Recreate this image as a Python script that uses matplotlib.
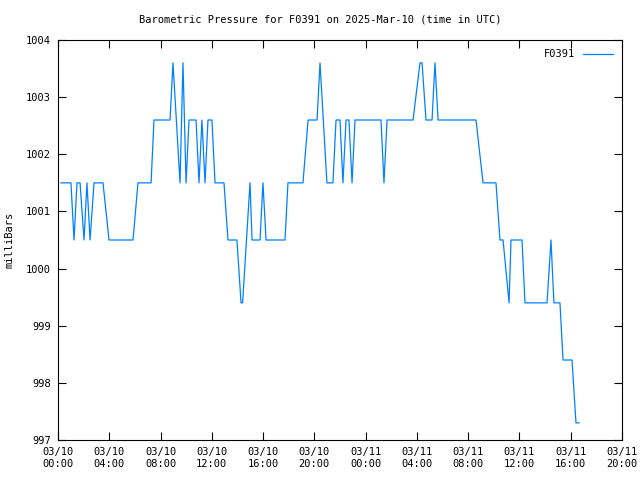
import matplotlib
matplotlib.use('Agg')
import matplotlib.pyplot as plt

# hours since 2025-03-10 00:00 UTC and pressure in millibars
hours = [0.23, 1.01, 1.25, 1.48, 1.72, 2.03, 2.26, 2.50, 2.81, 3.51,
         3.98, 5.85, 6.24, 7.26, 7.49, 8.74, 8.97, 9.52, 9.75, 9.99,
         10.22, 10.77, 11.00, 11.23, 11.47, 11.70, 12.01, 12.25, 12.95, 13.26,
         13.96, 14.28, 14.40, 14.98, 15.14, 15.76, 15.99, 16.23, 17.71, 17.94,
         19.11, 19.51, 20.21, 20.44, 20.98, 21.45, 21.69, 22.00, 22.23, 22.47,
         22.70, 22.94, 23.17, 25.20, 25.43, 25.67, 27.70, 28.24, 28.40, 28.71,
         29.18, 29.41, 29.65, 32.61, 33.16, 34.17, 34.48, 34.72, 35.19, 35.34,
         36.20, 36.43, 38.15, 38.46, 38.69, 39.16, 39.40, 40.10, 40.41, 40.65]
pressure = [1001.5, 1001.5, 1000.5, 1001.5, 1001.5, 1000.5, 1001.5, 1000.5, 1001.5, 1001.5,
            1000.5, 1000.5, 1001.5, 1001.5, 1002.6, 1002.6, 1003.6, 1001.5, 1003.6, 1001.5,
            1002.6, 1002.6, 1001.5, 1002.6, 1001.5, 1002.6, 1002.6, 1001.5, 1001.5, 1000.5,
            1000.5, 999.4, 999.4, 1001.5, 1000.5, 1000.5, 1001.5, 1000.5, 1000.5, 1001.5,
            1001.5, 1002.6, 1002.6, 1003.6, 1001.5, 1001.5, 1002.6, 1002.6, 1001.5, 1002.6,
            1002.6, 1001.5, 1002.6, 1002.6, 1001.5, 1002.6, 1002.6, 1003.6, 1003.6, 1002.6,
            1002.6, 1003.6, 1002.6, 1002.6, 1001.5, 1001.5, 1000.5, 1000.5, 999.4, 1000.5,
            1000.5, 999.4, 999.4, 1000.5, 999.4, 999.4, 998.4, 998.4, 997.3, 997.3]

tick_hours = [0, 4, 8, 12, 16, 20, 24, 28, 32, 36, 40, 44]
tick_labels = ['03/10\n00:00', '03/10\n04:00', '03/10\n08:00', '03/10\n12:00',
               '03/10\n16:00', '03/10\n20:00', '03/11\n00:00', '03/11\n04:00',
               '03/11\n08:00', '03/11\n12:00', '03/11\n16:00', '03/11\n20:00']
y_ticks = [997, 998, 999, 1000, 1001, 1002, 1003, 1004]

plt.rcParams.update({'font.family': 'DejaVu Sans Mono', 'font.size': 7.5})

fig = plt.figure(figsize=(6.4, 4.8), dpi=100)
ax = fig.add_axes([58 / 640, 40 / 480, 564 / 640, 400 / 480])

ax.plot(hours, pressure, color='#0080ff', linewidth=0.9, label='F0391')

ax.set_xlim(0, 44)
ax.set_ylim(997, 1004)
ax.set_xticks(tick_hours)
ax.set_xticklabels(tick_labels)
ax.set_yticks(y_ticks)
ax.set_yticklabels([str(v) for v in y_ticks])
ax.tick_params(axis='both', direction='in', length=6, width=0.8,
               top=True, right=True, pad=5)
for axis in ['top', 'bottom', 'left', 'right']:
    ax.spines[axis].set_linewidth(0.8)

ax.set_ylabel('milliBars', labelpad=8)
fig.text(0.5, 1 - 20 / 480, 'Barometric Pressure for F0391 on 2025-Mar-10 (time in UTC)',
         ha='center', va='center', fontsize=7.5)

ax.legend(loc='upper right', frameon=False, markerfirst=False,
          handlelength=2.8, handletextpad=0.8, borderaxespad=0.5)

plt.savefig('out.png', dpi=100)
plt.close()
